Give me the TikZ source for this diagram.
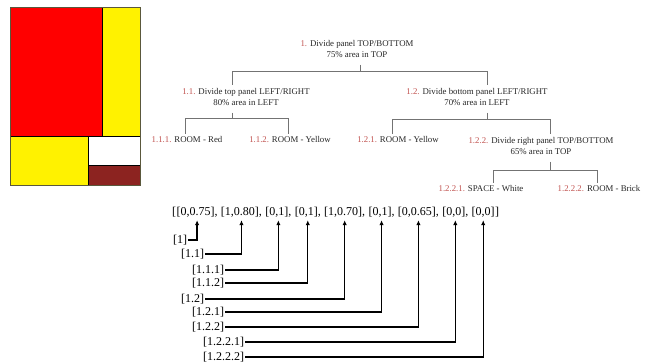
\documentclass[tikz,border=0pt]{standalone}
\usepackage{fontspec}
\setmainfont{Liberation Serif}
\usetikzlibrary{positioning,arrows.meta}

\definecolor{numred}{RGB}{192,80,77}
\definecolor{brick}{RGB}{140,35,32}
\definecolor{panelrim}{RGB}{90,88,60}
\newcommand{\nr}[1]{\textcolor{numred}{#1}}

\begin{document}
\begin{tikzpicture}[x=1pt,y=-1pt,
  tnode/.style={align=center,inner xsep=0pt,inner ysep=3pt,text=black!85,font=\fontsize{8.8}{11}\selectfont},
  tline/.style={draw=black!55,line width=0.8pt},
  entry/.style={inner xsep=0pt,inner ysep=2pt,text height=9pt,text depth=3pt,font=\fontsize{12}{14}\selectfont},
  idx/.style={inner sep=1pt,anchor=west,font=\fontsize{12}{14}\selectfont},
  ptr/.style={line width=1.2pt,-{Latex[length=5pt,width=4.5pt]}},
 ]
\useasboundingbox (0,0) rectangle (648,364);

% the panel
\fill[red] (10,7) rectangle (102,136);
\fill[yellow] (102,7) rectangle (140,136);
\fill[yellow] (10,136) rectangle (88,185);
\fill[white] (88,136) rectangle (140,165);
\fill[brick] (88,165) rectangle (140,185);
\draw[line width=1pt] (102,7) -- (102,136) (10,136) -- (140,136)
  (88,136) -- (88,185) (88,165) -- (140,165);
\draw[panelrim,line width=1pt] (10,7) rectangle (140,185);

% the tree
\node[tnode] (root) at (357,49) {\nr{1.} Divide panel TOP/BOTTOM\\75\% area in TOP};
\node[tnode] (n11) at (246,97) {\nr{1.1.} Divide top panel LEFT/RIGHT\\80\% area in LEFT};
\node[tnode] (n12) at (477,97) {\nr{1.2.} Divide bottom panel LEFT/RIGHT\\70\% area in LEFT};
\node[tnode] (n111) at (187,140) {\nr{1.1.1.} ROOM - Red};
\node[tnode] (n112) at (290,140) {\nr{1.1.2.} ROOM - Yellow};
\node[tnode] (n121) at (398,140) {\nr{1.2.1.} ROOM - Yellow};
\node[tnode] (n122) at (541,146) {\nr{1.2.2.} Divide right panel TOP/BOTTOM\\65\% area in TOP};
\node[tnode] (n1221) at (481,189) {\nr{1.2.2.1.} SPACE - White};
\node[tnode] (n1222) at (599,189) {\nr{1.2.2.2.} ROOM - Brick};

\draw[tline] ([xshift=3pt,yshift=-4pt]root.south) -- ++(0,-7pt) -| ([xshift=-14pt]n11.north);
\draw[tline] ([xshift=3pt,yshift=-4pt]root.south) -- ++(0,-7pt) -| ([xshift=10pt]n12.north);
\draw[tline] ([xshift=-14pt,yshift=-4pt]n11.south) -- ++(0,-6pt) -| ([xshift=-2pt]n111.north);
\draw[tline] ([xshift=-14pt,yshift=-4pt]n11.south) -- ++(0,-6pt) -| ([xshift=-2pt]n112.north);
\draw[tline] ([xshift=10pt,yshift=-4pt]n12.south) -- ++(0,-7pt) -| ([xshift=-6pt]n121.north);
\draw[tline] ([xshift=10pt,yshift=-4pt]n12.south) -- ++(0,-7pt) -| ([xshift=9pt]n122.north);
\draw[tline] ([xshift=9pt,yshift=-4pt]n122.south) -- ++(0,-9pt) -| ([xshift=12pt]n1221.north);
\draw[tline] ([xshift=9pt,yshift=-4pt]n122.south) -- ++(0,-9pt) -| ([xshift=-2pt]n1222.north);

% the list
\node[entry,anchor=west] (lb) at (172,212) {[};
\node[entry,right=0pt of lb] (e1) {[0,0.75],};
\node[entry,right=3pt of e1] (e2) {[1,0.80],};
\node[entry,right=3pt of e2] (e3) {[0,1],};
\node[entry,right=3pt of e3] (e4) {[0,1],};
\node[entry,right=3pt of e4] (e5) {[1,0.70],};
\node[entry,right=3pt of e5] (e6) {[0,1],};
\node[entry,right=3pt of e6] (e7) {[0,0.65],};
\node[entry,right=3pt of e7] (e8) {[0,0],};
\node[entry,right=3pt of e8] (e9) {[0,0]};
\node[entry,right=0pt of e9] (rb) {]};

\node[idx] (i1) at (172,240) {[1]};
\node[idx] (i11) at (180,254) {[1.1]};
\node[idx] (i111) at (191,270) {[1.1.1]};
\node[idx] (i112) at (191,283) {[1.1.2]};
\node[idx] (i12) at (180,299) {[1.2]};
\node[idx] (i121) at (191,312) {[1.2.1]};
\node[idx] (i122) at (191,327) {[1.2.2]};
\node[idx] (i1221) at (202,342) {[1.2.2.1]};
\node[idx] (i1222) at (202,357) {[1.2.2.2]};

\draw[ptr] (i1.east) -| (e1.south);
\draw[ptr] (i11.east) -| (e2.south);
\draw[ptr] (i111.east) -| (e3.south);
\draw[ptr] (i112.east) -| (e4.south);
\draw[ptr] (i12.east) -| (e5.south);
\draw[ptr] (i121.east) -| (e6.south);
\draw[ptr] (i122.east) -| (e7.south);
\draw[ptr] (i1221.east) -| (e8.south);
\draw[ptr] (i1222.east) -| (e9.south);

\end{tikzpicture}
\end{document}
